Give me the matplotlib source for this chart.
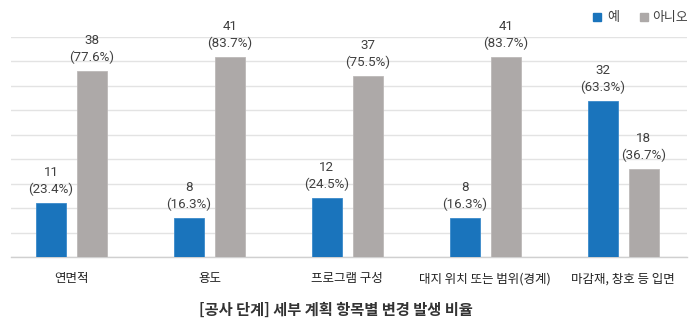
import matplotlib
matplotlib.use("Agg")
import matplotlib.pyplot as plt
import numpy as np

plt.rcParams['font.family'] = ['Noto Sans CJK KR', 'DejaVu Sans']

categories = ["연면적", "용도", "프로그램 구성", "대지 위치 또는 범위(경계)", "마감재, 창호 등 입면"]
yes_counts = [11, 8, 12, 8, 32]
yes_pct = [23.4, 16.3, 24.5, 16.3, 63.3]
no_counts = [38, 41, 37, 41, 18]
no_pct = [77.6, 83.7, 75.5, 83.7, 36.7]
series_names = ["예", "아니오"]
title = "[공사 단계] 세부 계획 항목별 변경 발생 비율"

blue = "#1A74BC"
gray = "#ADA9A8"
text_color = "#404040"

fig = plt.figure(figsize=(7.0, 3.28), dpi=100)
ax = fig.add_axes([11 / 700, 1 - 257 / 328, 676 / 700, 220 / 328])

x = np.arange(len(categories))
w = 0.2175
off = 0.149
ax.bar(x - off, yes_counts, w, color=blue, edgecolor="#3A8ACB", linewidth=0.6, zorder=3)
ax.bar(x + off, no_counts, w, color=gray, edgecolor="#BDB9B8", linewidth=0.6, zorder=3)


def value_labels(xs, counts, pcts):
    for xi, c, p in zip(xs, counts, pcts):
        ax.annotate(f"{c}\n({p}%)", (xi, c), xytext=(0, 5), textcoords="offset points",
                    ha="center", va="bottom", fontsize=9.6, color=text_color,
                    linespacing=1.35, family=['Roboto', 'DejaVu Sans'])


value_labels(x - off, yes_counts, yes_pct)
value_labels(x + off, no_counts, no_pct)

ax.set_xlim(-0.439, 4.463)
ax.set_ylim(0, 45)
ax.set_yticks(np.arange(0, 46, 5))
ax.yaxis.grid(True, color="#E3E3E3", linewidth=1.0, zorder=0)
ax.set_axisbelow(True)
ax.tick_params(axis="y", length=0, labelleft=False)
ax.tick_params(axis="x", length=0, pad=11)
ax.set_xticks(x)
ax.set_xticklabels(categories, fontsize=9, color="#222222")
for s in ["top", "right", "left"]:
    ax.spines[s].set_visible(False)
ax.spines["bottom"].set_color("#D0D0D0")
ax.spines["bottom"].set_linewidth(1.0)

# legend
fig.patches.append(plt.Rectangle((593 / 700, 1 - 21 / 328), 8 / 700, 8 / 328,
                                 transform=fig.transFigure, color=blue, figure=fig))
fig.text(607 / 700, 1 - 17 / 328, series_names[0], fontsize=9.5, color=text_color,
         va="center", ha="left")
fig.patches.append(plt.Rectangle((640 / 700, 1 - 21 / 328), 8 / 700, 8 / 328,
                                 transform=fig.transFigure, color=gray, figure=fig))
fig.text(652 / 700, 1 - 17 / 328, series_names[1], fontsize=9.3, color=text_color,
         va="center", ha="left")

fig.text(336 / 700, 1 - 310 / 328, title, fontsize=11, color="#333333",
         ha="center", va="center", fontweight="semibold")

fig.savefig("out.png", dpi=100)
